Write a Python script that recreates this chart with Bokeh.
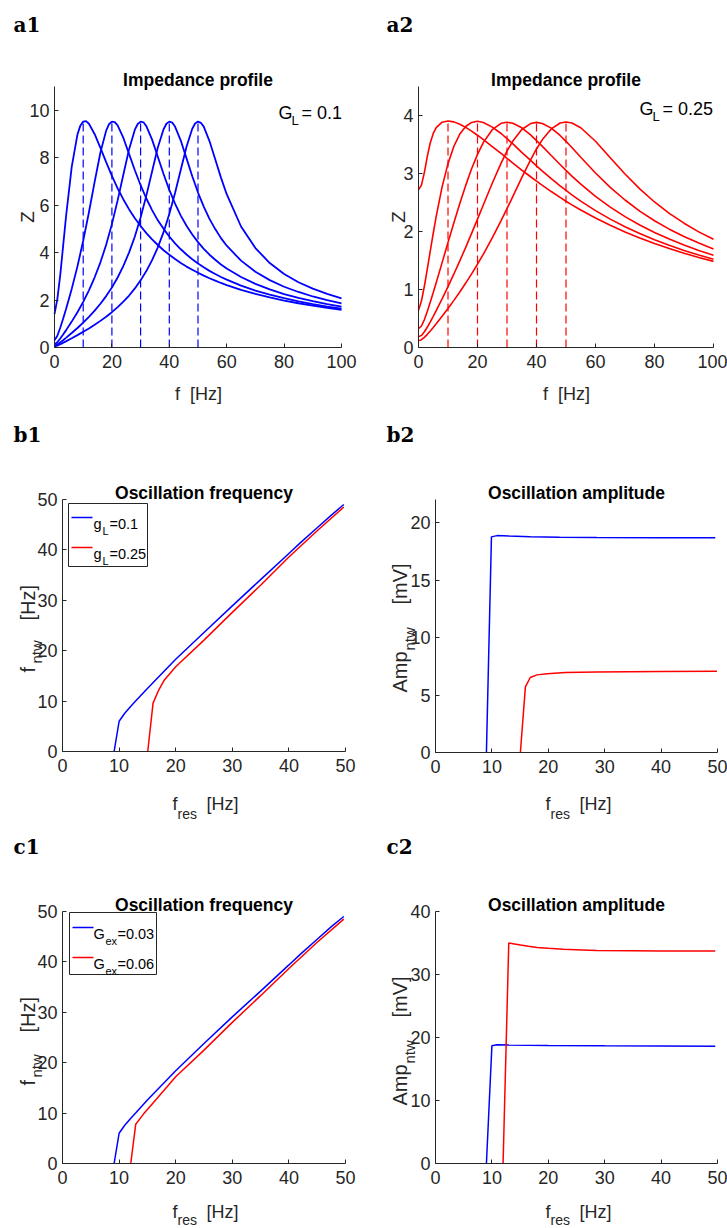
from math import pi
from bokeh.plotting import figure
from bokeh.models import Range1d, Label, BoxAnnotation, PolyAnnotation, FixedTicker
from bokeh.layouts import column, row
from bokeh.embed import file_html
from bokeh.resources import INLINE

# ---------------- data ----------------
# a1: impedance profiles, G_L = 0.1 (resonance at 10..50 Hz)
A1_F10 = [0,1,2,3,4,6,8,9,10,11,12,14,16,18,20,22,24,26,28,30,32,34,36,38,40,42,44,46,48,50,52,54,56,58,60,65,70,75,80,85,90,95,100]
A1_Z10 = [1.41,2.05,3.05,4.27,5.50,7.61,8.98,9.35,9.52,9.54,9.43,8.99,8.41,7.81,7.23,6.71,6.24,5.82,5.45,5.12,4.82,4.56,4.32,4.10,3.91,3.73,3.56,3.41,3.28,3.15,3.03,2.92,2.82,2.72,2.63,2.43,2.26,2.11,1.98,1.865,1.762,1.670,1.587]
A1_F20 = [0,1,2,3,4,6,8,10,12,14,16,18,19,20,21,22,24,26,28,30,32,34,36,38,40,42,44,46,48,50,52,54,56,58,60,65,70,75,80,85,90,95,100]
A1_Z20 = [0.306,0.493,0.834,1.213,1.612,2.47,3.42,4.50,5.70,6.99,8.22,9.14,9.41,9.52,9.50,9.36,8.83,8.15,7.47,6.84,6.28,5.79,5.36,5.00,4.68,4.39,4.14,3.92,3.72,3.54,3.38,3.23,3.10,2.97,2.86,2.61,2.40,2.23,2.08,1.944,1.829,1.727,1.636]
A1_F30 = [0,1,2,3,4,6,8,10,12,14,16,18,20,22,24,26,28,29,30,31,32,34,36,38,40,42,44,46,48,50,52,54,56,58,60,65,70,75,80,85,90,95,100]
A1_Z30 = [0.139,0.223,0.377,0.545,0.722,1.091,1.488,1.923,2.41,2.96,3.59,4.33,5.20,6.20,7.29,8.36,9.18,9.42,9.52,9.49,9.33,8.76,8.04,7.31,6.64,6.06,5.56,5.13,4.76,4.44,4.16,3.91,3.70,3.50,3.33,2.97,2.68,2.45,2.25,2.09,1.951,1.829,1.723]
A1_F40 = [0,1,2,3,4,6,8,10,12,14,16,18,20,22,24,26,28,30,32,34,36,38,39,40,41,42,44,46,48,50,52,54,56,58,60,65,70,75,80,85,90,95,100]
A1_Z40 = [0.0785,0.126,0.213,0.308,0.406,0.610,0.823,1.049,1.291,1.554,1.843,2.166,2.53,2.95,3.44,4.01,4.68,5.48,6.40,7.42,8.43,9.20,9.43,9.52,9.48,9.31,8.72,7.97,7.22,6.53,5.94,5.42,4.99,4.61,4.29,3.66,3.19,2.84,2.56,2.34,2.15,1.995,1.861]
A1_F50 = [0,1,2,3,4,6,8,10,12,14,16,18,20,22,24,26,28,30,32,34,36,38,40,42,44,46,48,49,50,51,52,54,56,58,60,65,70,75,80,85,90,95,100]
A1_Z50 = [0.0504,0.081,0.137,0.197,0.260,0.389,0.522,0.660,0.805,0.958,1.122,1.298,1.489,1.699,1.932,2.19,2.49,2.83,3.22,3.68,4.22,4.86,5.63,6.51,7.49,8.46,9.22,9.44,9.52,9.47,9.31,8.70,7.93,7.16,6.46,5.10,4.19,3.56,3.10,2.75,2.48,2.26,2.075]

# a2: impedance profiles, G_L = 0.25
A2_F = [0,1,2,3,4,5,6,8,10,12,14,16,18,20,22,25,28,30,32,35,38,40,42,45,48,50,52,55,60,65,70,75,80,85,90,95,100]
A2_Z10 = [2.72,2.80,3.02,3.30,3.53,3.69,3.79,3.885,3.905,3.89,3.85,3.795,3.73,3.66,3.585,3.465,3.345,3.262,3.180,3.060,2.944,2.868,2.795,2.689,2.588,2.522,2.460,2.371,2.232,2.107,1.992,1.888,1.793,1.706,1.626,1.553,1.485]
A2_Z20 = [0.64,0.80,1.06,1.355,1.665,1.97,2.26,2.77,3.17,3.47,3.68,3.81,3.88,3.90,3.88,3.80,3.69,3.60,3.51,3.365,3.225,3.132,3.040,2.910,2.786,2.708,2.632,2.525,2.360,2.214,2.083,1.964,1.858,1.762,1.674,1.595,1.522]
A2_Z30 = [0.326,0.371,0.482,0.625,0.783,0.948,1.118,1.463,1.810,2.152,2.483,2.795,3.082,3.330,3.537,3.755,3.866,3.885,3.866,3.788,3.666,3.568,3.467,3.310,3.155,3.054,2.955,2.818,2.606,2.420,2.256,2.111,1.982,1.869,1.766,1.674,1.591]
A2_Z40 = [0.184,0.209,0.272,0.353,0.443,0.537,0.635,0.838,1.049,1.268,1.494,1.727,1.968,2.213,2.462,2.831,3.178,3.385,3.561,3.759,3.861,3.881,3.863,3.782,3.656,3.555,3.447,3.280,3.009,2.762,2.543,2.352,2.186,2.040,1.913,1.800,1.699]
A2_Z50 = [0.118,0.134,0.175,0.227,0.285,0.345,0.408,0.538,0.673,0.813,0.958,1.111,1.270,1.436,1.611,1.889,2.187,2.394,2.607,2.928,3.236,3.423,3.585,3.769,3.870,3.887,3.870,3.789,3.556,3.273,2.991,2.735,2.509,2.313,2.143,1.994,1.865]

RES_F = [10, 20, 30, 40, 50]
PEAK_A1 = [9.52, 9.52, 9.52, 9.52, 9.52]
PEAK_A2 = [3.90, 3.90, 3.885, 3.881, 3.887]

# b1: network frequency vs f_res for g_L = 0.1 / 0.25
B1_BLUE_X = [9.12, 10.0, 11.0, 12.0, 13.0, 15.0, 20.0, 25.0, 30.0, 35.0, 40.0, 42.0, 45.0, 47.5, 49.7]
B1_BLUE_Y = [0.0, 6.0, 7.6, 8.9, 10.1, 12.5, 18.3, 23.6, 28.9, 34.1, 39.3, 41.4, 44.4, 46.9, 49.0]
B1_RED_X = [15.06, 16.0, 17.0, 18.0, 20.0, 25.0, 30.0, 35.0, 40.0, 45.0, 49.7]
B1_RED_Y = [0.0, 9.6, 12.2, 14.2, 16.8, 22.1, 27.6, 33.0, 38.6, 43.8, 48.5]

# b2: network amplitude
B2_BLUE_X = [9.03, 9.92, 10.9, 13.0, 16.8, 22.0, 28.6, 40.0, 49.6]
B2_BLUE_Y = [0.0, 18.75, 18.86, 18.82, 18.76, 18.72, 18.70, 18.68, 18.67]
B2_RED_X = [15.05, 15.94, 16.8, 18.0, 19.8, 23.0, 28.6, 40.0, 49.9]
B2_RED_Y = [0.0, 5.71, 6.52, 6.75, 6.85, 6.95, 7.00, 7.05, 7.07]

# c1: network frequency for G_ex = 0.03 / 0.06
C1_BLUE_X = [9.12, 10.0, 11.0, 12.0, 13.0, 15.0, 20.0, 25.0, 30.0, 35.0, 40.0, 42.0, 45.0, 47.5, 49.7]
C1_BLUE_Y = [0.0, 6.0, 7.6, 8.9, 10.1, 12.6, 18.4, 23.8, 29.1, 34.2, 39.4, 41.5, 44.5, 47.0, 49.0]
C1_RED_X = [12.06, 12.94, 14.3, 16.0, 20.0, 25.0, 30.0, 35.0, 40.0, 45.0, 49.7]
C1_RED_Y = [0.0, 7.8, 9.8, 12.0, 17.2, 22.5, 28.0, 33.3, 38.7, 43.9, 48.5]

# c2: network amplitude
C2_BLUE_X = [9.03, 10.0, 10.9, 13.0, 20.0, 30.0, 40.0, 49.6]
C2_BLUE_Y = [0.0, 18.68, 18.84, 18.80, 18.72, 18.68, 18.65, 18.63]
C2_RED_X = [11.98, 12.99, 14.0, 15.05, 16.5, 18.0, 20.0, 22.7, 26.0, 28.6, 35.0, 40.0, 49.6]
C2_RED_Y = [0.0, 34.99, 34.85, 34.70, 34.50, 34.30, 34.15, 34.00, 33.90, 33.80, 33.76, 33.74, 33.72]

# ---------------- style ----------------
SANS = "Liberation Sans"
SERIF = "DejaVu Serif"
AX = "#262626"
BLUE = "#0000ff"
RED = "#ff0000"
NB = "\u00a0"

OFFS = {}


def make_fig(w, h, L, R, T, B, xr, yr, xticks, yticks):
    """Whole cell is the frame; data box sits at (L, B) with the axes pinned to its edges."""
    fw = w - L - R
    fh = h - T - B
    ux = (xr[1] - xr[0]) / fw
    uy = (yr[1] - yr[0]) / fh
    p = figure(width=w, height=h,
               x_range=Range1d(xr[0] - L * ux, xr[1] + R * ux),
               y_range=Range1d(yr[0] - B * uy, yr[1] + T * uy),
               output_backend="svg", toolbar_location=None,
               min_border_left=0, min_border_right=0, min_border_top=0, min_border_bottom=0)
    p.outline_line_color = None
    p.grid.visible = False
    p.background_fill_color = "white"
    p.border_fill_color = "white"
    xa, ya = p.xaxis[0], p.yaxis[0]
    for ax in (xa, ya):
        ax.axis_line_color = AX
        ax.axis_line_width = 1
        ax.major_tick_line_color = AX
        ax.minor_tick_line_color = None
        ax.major_tick_in = 4
        ax.major_tick_out = 0
        ax.major_label_text_font = SANS
        ax.major_label_text_font_size = "18px"
        ax.major_label_text_color = AX
    xa.ticker = FixedTicker(ticks=xticks)
    ya.ticker = FixedTicker(ticks=yticks)
    xa.fixed_location = yr[0]
    ya.fixed_location = xr[0]
    xa.bounds = xr
    ya.bounds = yr
    xa.major_label_standoff = 7
    ya.major_label_standoff = 5
    OFFS[p.id] = (L, B)
    return p


def txt(p, x, y, text, size, bold=False, font=SANS, angle=0.0, align="left", color=AX):
    ox, oy = OFFS[p.id]
    p.add_layout(Label(x=x + ox, y=y + oy, x_units="screen", y_units="screen", text=text,
                       text_font=font, text_font_size=f"{size}px",
                       text_font_style="bold" if bold else "normal",
                       text_color=color, angle=angle, angle_units="rad",
                       text_align=align, text_baseline="alphabetic"))


def panel_label(p, x, y, text):
    txt(p, x, y, text, 20, bold=True, font=SERIF, color="#000000")


def title(p, x, y, text):
    txt(p, x, y, text, 17.5, bold=True, align="center", color="#000000")


def xlabel_res(p, x0, y0, sub_drop=10):
    txt(p, x0, y0, "f", 18)
    txt(p, x0 + 5, y0 - sub_drop, "res", 14)
    txt(p, x0 + 34, y0, "[Hz]", 18)


def legend(p, left, right, top, bottom, ys, colors):
    ox, oy = OFFS[p.id]
    p.add_layout(BoxAnnotation(left=left + ox, right=right + ox, top=top + oy, bottom=bottom + oy,
                               left_units="screen", right_units="screen",
                               top_units="screen", bottom_units="screen",
                               fill_color="white", fill_alpha=1.0,
                               line_color=AX, line_alpha=1.0, line_width=1))
    for yy, c in zip(ys, colors):
        p.add_layout(PolyAnnotation(xs=[left + 3 + ox, left + 24 + ox, left + 24 + ox, left + 3 + ox],
                                    ys=[yy + oy] * 4,
                                    xs_units="screen", ys_units="screen",
                                    fill_alpha=0.0, line_color=c, line_alpha=1.0, line_width=1.5))


# ---------------- a1 ----------------
a1 = make_fig(363, 410, 54, 22, 86, 63, (0, 100), (0, 11), [0, 20, 40, 60, 80, 100], [0, 2, 4, 6, 8, 10])
for fx, zy in [(A1_F10, A1_Z10), (A1_F20, A1_Z20), (A1_F30, A1_Z30), (A1_F40, A1_Z40), (A1_F50, A1_Z50)]:
    a1.line(fx, zy, color=BLUE, line_width=1.8)
a1.segment(x0=RES_F, y0=[0] * len(RES_F), x1=RES_F, y1=PEAK_A1, color=BLUE, line_width=1.2, line_dash="8 4")
title(a1, 143.5, 268, "Impedance profile")
panel_label(a1, -41, 323, "a1")
txt(a1, 144, -46, "f" + NB + NB + "[Hz]", 18, align="center")
txt(a1, -27, 130.5, "Z", 19, angle=pi / 2, align="center")
txt(a1, 224, 235, "G", 18, color="#000000")
txt(a1, 237, 227, "L", 13, color="#000000")
txt(a1, 247, 235, "= 0.1", 18, color="#000000")

# ---------------- a2 ----------------
a2 = make_fig(364, 410, 55, 14, 86, 63, (0, 100), (0, 4.5), [0, 20, 40, 60, 80, 100], [0, 1, 2, 3, 4])
for zy in [A2_Z10, A2_Z20, A2_Z30, A2_Z40, A2_Z50]:
    a2.line(A2_F, zy, color=RED, line_width=1.6)
a2.segment(x0=RES_F, y0=[0] * len(RES_F), x1=RES_F, y1=PEAK_A2, color=RED, line_width=1.2, line_dash="8 4")
title(a2, 147.5, 268, "Impedance profile")
panel_label(a2, -32, 323, "a2")
txt(a2, 148, -46, "f" + NB + NB + "[Hz]", 18, align="center")
txt(a2, -20, 130.5, "Z", 19, angle=pi / 2, align="center")
txt(a2, 221, 239, "G", 18, color="#000000")
txt(a2, 234, 231, "L", 13, color="#000000")
txt(a2, 244, 239, "= 0.25", 18, color="#000000")

# ---------------- b1 ----------------
b1 = make_fig(363, 410, 62, 18, 89, 69, (0, 50), (0, 50), [0, 10, 20, 30, 40, 50], [0, 10, 20, 30, 40, 50])
b1.line(B1_BLUE_X, B1_BLUE_Y, color=BLUE, line_width=1.5)
b1.line(B1_RED_X, B1_RED_Y, color=RED, line_width=1.5)
title(b1, 141.5, 259, "Oscillation frequency")
panel_label(b1, -49, 317, "b1")
xlabel_res(b1, 110, -52)
txt(b1, -35, 79, "f", 20, angle=pi / 2)
txt(b1, -26, 88, "ntw", 15, angle=pi / 2)
txt(b1, -35, 131, "[Hz]", 20, angle=pi / 2)
legend(b1, 6, 85, 248, 185, [234, 204], [BLUE, RED])
txt(b1, 31, 228, "g", 14.5, color="#000000")
txt(b1, 40, 221, "L", 11, color="#000000")
txt(b1, 47, 228, "=0.1", 14.5, color="#000000")
txt(b1, 31, 198, "g", 14.5, color="#000000")
txt(b1, 40, 191, "L", 11, color="#000000")
txt(b1, 47, 198, "=0.25", 14.5, color="#000000")

# ---------------- b2 ----------------
b2 = make_fig(364, 410, 72, 10, 89, 68, (0, 50), (0, 22), [0, 10, 20, 30, 40, 50], [0, 5, 10, 15, 20])
b2.line(B2_BLUE_X, B2_BLUE_Y, color=BLUE, line_width=1.5)
b2.line(B2_RED_X, B2_RED_Y, color=RED, line_width=1.5)
title(b2, 141, 260, "Oscillation amplitude")
panel_label(b2, -49, 318, "b2")
xlabel_res(b2, 110, -51)
txt(b2, -36, 60, "Amp", 20, angle=pi / 2)
txt(b2, -26, 102, "ntw", 15, angle=pi / 2)
txt(b2, -36, 148, "[mV]", 20, angle=pi / 2)

# ---------------- c1 ----------------
c1 = make_fig(363, 408, 62, 18, 91, 65, (0, 50), (0, 50), [0, 10, 20, 30, 40, 50], [0, 10, 20, 30, 40, 50])
c1.line(C1_BLUE_X, C1_BLUE_Y, color=BLUE, line_width=1.5)
c1.line(C1_RED_X, C1_RED_Y, color=RED, line_width=1.5)
title(c1, 141.5, 259, "Oscillation frequency")
panel_label(c1, -49, 317, "c1")
xlabel_res(c1, 110, -48, sub_drop=8)
txt(c1, -35, 78, "f", 20, angle=pi / 2)
txt(c1, -26, 86, "ntw", 15, angle=pi / 2)
txt(c1, -35, 131, "[Hz]", 20, angle=pi / 2)
legend(c1, 7, 94, 251, 189, [236, 206], [BLUE, RED])
txt(c1, 31, 230, "G", 14.5, color="#000000")
txt(c1, 43, 223, "ex", 11, color="#000000")
txt(c1, 55, 230, "=0.03", 14.5, color="#000000")
txt(c1, 31, 200, "G", 14.5, color="#000000")
txt(c1, 43, 193, "ex", 11, color="#000000")
txt(c1, 55, 200, "=0.06", 14.5, color="#000000")

# ---------------- c2 ----------------
c2 = make_fig(364, 408, 72, 10, 91, 65, (0, 50), (0, 40), [0, 10, 20, 30, 40, 50], [0, 10, 20, 30, 40])
c2.line(C2_BLUE_X, C2_BLUE_Y, color=BLUE, line_width=1.5)
c2.line(C2_RED_X, C2_RED_Y, color=RED, line_width=1.5)
title(c2, 141, 259, "Oscillation amplitude")
panel_label(c2, -49, 317, "c2")
xlabel_res(c2, 110, -48, sub_drop=8)
txt(c2, -36, 58, "Amp", 20, angle=pi / 2)
txt(c2, -26, 100, "ntw", 15, angle=pi / 2)
txt(c2, -36, 146, "[mV]", 20, angle=pi / 2)

layout = column(row(a1, a2), row(b1, b2), row(c1, c2))
open("out.html", "w").write(file_html(layout, INLINE))
